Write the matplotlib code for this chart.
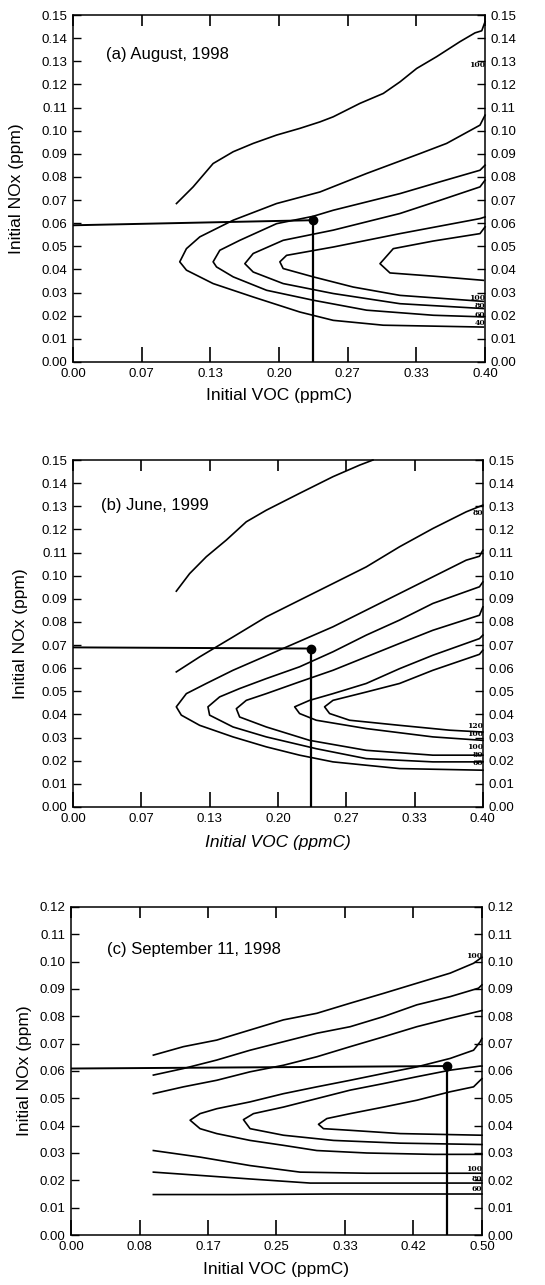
import matplotlib
matplotlib.use("Agg")
import matplotlib.pyplot as plt

plt.rcParams['font.family'] = ['Liberation Sans', 'DejaVu Sans']

# ---------------- (a) August, 1998 ----------------
aug_top_x = [0.1004, 0.1166, 0.1360, 0.1555, 0.1749, 0.1976, 0.2202, 0.2397, 0.2526, 0.2785,
             0.3012, 0.3174, 0.3336, 0.3530, 0.3757, 0.3903, 0.3968, 0.4000]
aug_top_y = [0.0685, 0.0757, 0.0858, 0.0909, 0.0945, 0.0981, 0.1010, 0.1038, 0.1060, 0.1118,
             0.1161, 0.1211, 0.1269, 0.1320, 0.1385, 0.1423, 0.1432, 0.1471]

aug_n1_x = [0.3984, 0.3012, 0.2526, 0.2202, 0.1749, 0.1360, 0.1101, 0.1036, 0.1101, 0.1231,
            0.1555, 0.1976, 0.2397, 0.2850, 0.3368, 0.3627, 0.3951, 0.4000]
aug_n1_y = [0.0151, 0.0159, 0.0180, 0.0216, 0.0281, 0.0339, 0.0397, 0.0433, 0.0490, 0.0541,
            0.0613, 0.0685, 0.0735, 0.0815, 0.0901, 0.0945, 0.1024, 0.1067]

aug_n2_x = [0.3984, 0.3498, 0.2850, 0.2332, 0.1879, 0.1555, 0.1393, 0.1360, 0.1425, 0.1619,
            0.1976, 0.2332, 0.2526, 0.3174, 0.3563, 0.3951, 0.4000]
aug_n2_y = [0.0195, 0.0202, 0.0224, 0.0267, 0.0310, 0.0368, 0.0411, 0.0433, 0.0483, 0.0526,
            0.0598, 0.0630, 0.0656, 0.0728, 0.0779, 0.0829, 0.0851]

aug_n3_x = [0.3984, 0.3174, 0.2526, 0.2040, 0.1749, 0.1668, 0.1749, 0.2040, 0.2526, 0.3174,
            0.3563, 0.3951, 0.4000]
aug_n3_y = [0.0231, 0.0252, 0.0296, 0.0339, 0.0389, 0.0425, 0.0469, 0.0526, 0.0570, 0.0642,
            0.0699, 0.0757, 0.0786]

aug_n4_x = [0.3984, 0.3174, 0.2720, 0.2332, 0.2040, 0.2008, 0.2073, 0.2526, 0.3174, 0.3951, 0.4000]
aug_n4_y = [0.0262, 0.0288, 0.0324, 0.0368, 0.0404, 0.0433, 0.0461, 0.0497, 0.0555, 0.0620, 0.0627]

aug_n5_x = [0.3984, 0.3498, 0.3077, 0.2980, 0.3109, 0.3498, 0.3951, 0.4000]
aug_n5_y = [0.0353, 0.0371, 0.0385, 0.0425, 0.0490, 0.0523, 0.0555, 0.0584]

aug_point = (0.2332, 0.0613)
aug_guide_y0 = 0.0591

# ---------------- (b) June, 1999 ----------------
jun_top_x = [0.1008, 0.1138, 0.1301, 0.1496, 0.1691, 0.1886, 0.2211, 0.2537, 0.2797, 0.2927]
jun_top_y = [0.0933, 0.1009, 0.1082, 0.1154, 0.1233, 0.1283, 0.1356, 0.1428, 0.1478, 0.1500]

jun_o2_x = [0.1008, 0.1236, 0.1561, 0.1886, 0.2211, 0.2537, 0.2862, 0.3187, 0.3512, 0.3837, 0.4000]
jun_o2_y = [0.0584, 0.0649, 0.0735, 0.0822, 0.0894, 0.0966, 0.1038, 0.1125, 0.1204, 0.1276, 0.1305]

jun_n1_x = [0.4000, 0.3187, 0.2537, 0.2211, 0.1886, 0.1561, 0.1236, 0.1057, 0.1008, 0.1106,
            0.1301, 0.1561, 0.2049, 0.2537, 0.2862, 0.3187, 0.3512, 0.3837, 0.3967, 0.4000]
jun_n1_y = [0.0159, 0.0166, 0.0195, 0.0224, 0.0260, 0.0303, 0.0353, 0.0397, 0.0433, 0.0490,
            0.0534, 0.0591, 0.0685, 0.0779, 0.0851, 0.0923, 0.0995, 0.1067, 0.1084, 0.1110]

jun_n2_x = [0.4000, 0.3512, 0.2862, 0.2374, 0.1886, 0.1561, 0.1333, 0.1317, 0.1431, 0.1626,
            0.1886, 0.2211, 0.2537, 0.2862, 0.3187, 0.3512, 0.3967, 0.4000]
jun_n2_y = [0.0195, 0.0195, 0.0209, 0.0252, 0.0303, 0.0346, 0.0397, 0.0433, 0.0476, 0.0512,
            0.0555, 0.0606, 0.0671, 0.0743, 0.0808, 0.0880, 0.0952, 0.0973]

jun_n3_x = [0.4000, 0.3512, 0.2862, 0.2309, 0.1886, 0.1626, 0.1594, 0.1691, 0.1886, 0.2211,
            0.2537, 0.2862, 0.3187, 0.3512, 0.3967, 0.4000]
jun_n3_y = [0.0224, 0.0224, 0.0245, 0.0288, 0.0346, 0.0389, 0.0425, 0.0461, 0.0490, 0.0541,
            0.0591, 0.0649, 0.0707, 0.0764, 0.0829, 0.0865]

jun_n4_x = [0.4000, 0.3512, 0.2862, 0.2374, 0.2211, 0.2163, 0.2309, 0.2537, 0.2862, 0.3187,
            0.3512, 0.3967, 0.4000]
jun_n4_y = [0.0288, 0.0303, 0.0339, 0.0375, 0.0404, 0.0433, 0.0461, 0.0490, 0.0534, 0.0598,
            0.0656, 0.0728, 0.0743]

jun_n5_x = [0.4000, 0.3675, 0.3187, 0.2699, 0.2504, 0.2455, 0.2537, 0.2862, 0.3187, 0.3512,
            0.3967, 0.4000]
jun_n5_y = [0.0324, 0.0332, 0.0353, 0.0375, 0.0404, 0.0433, 0.0461, 0.0497, 0.0534, 0.0591,
            0.0660, 0.0678]

jun_point = (0.2325, 0.0685)
jun_guide_y0 = 0.0690

# ---------------- (c) September 11, 1998 ----------------
sep_top_x = [0.1002, 0.1368, 0.1773, 0.2179, 0.2585, 0.2991, 0.3397, 0.3803, 0.4208, 0.4614, 0.4898, 0.5000]
sep_top_y = [0.0658, 0.0689, 0.0713, 0.0750, 0.0787, 0.0811, 0.0848, 0.0884, 0.0921, 0.0958, 0.0994, 0.1016]

sep_o2_x = [0.1002, 0.1368, 0.1773, 0.2179, 0.2585, 0.2991, 0.3397, 0.3803, 0.4208, 0.4614, 0.4959, 0.5000]
sep_o2_y = [0.0585, 0.0609, 0.0640, 0.0676, 0.0707, 0.0738, 0.0762, 0.0799, 0.0842, 0.0872, 0.0903, 0.0915]

sep_o3_x = [0.1002, 0.1368, 0.1773, 0.2179, 0.2585, 0.2991, 0.3397, 0.3803, 0.4208, 0.4614, 0.5000]
sep_o3_y = [0.0517, 0.0542, 0.0566, 0.0597, 0.0621, 0.0652, 0.0689, 0.0725, 0.0762, 0.0793, 0.0821]

sep_n1_x = [0.5000, 0.4411, 0.3600, 0.2991, 0.2585, 0.2179, 0.1773, 0.1570, 0.1449, 0.1570,
            0.1773, 0.2179, 0.2585, 0.2991, 0.3397, 0.3803, 0.4208, 0.4614, 0.4898, 0.4979, 0.5000]
sep_n1_y = [0.0295, 0.0295, 0.0300, 0.0309, 0.0328, 0.0346, 0.0371, 0.0389, 0.0420, 0.0444,
            0.0462, 0.0487, 0.0517, 0.0542, 0.0566, 0.0591, 0.0615, 0.0646, 0.0676, 0.0707, 0.0719]

sep_n2_x = [0.5000, 0.4005, 0.3194, 0.2585, 0.2179, 0.2098, 0.2220, 0.2585, 0.2991, 0.3397,
            0.3803, 0.4208, 0.4614, 0.4979, 0.5000]
sep_n2_y = [0.0331, 0.0336, 0.0346, 0.0365, 0.0389, 0.0422, 0.0444, 0.0468, 0.0499, 0.0530,
            0.0554, 0.0579, 0.0603, 0.0618, 0.0618]

sep_n3_x = [0.5000, 0.4005, 0.3397, 0.3072, 0.3011, 0.3113, 0.3397, 0.3803, 0.4208, 0.4614,
            0.4898, 0.4979, 0.5000]
sep_n3_y = [0.0365, 0.0371, 0.0383, 0.0389, 0.0405, 0.0426, 0.0444, 0.0468, 0.0493, 0.0524,
            0.0542, 0.0566, 0.0572]

sep_l1_x = [0.1002, 0.1570, 0.2179, 0.2788, 0.3600, 0.5000]
sep_l1_y = [0.0309, 0.0285, 0.0254, 0.0230, 0.0226, 0.0226]
sep_l2_x = [0.1002, 0.1570, 0.2179, 0.2910, 0.4005, 0.5000]
sep_l2_y = [0.0230, 0.0218, 0.0205, 0.0190, 0.0190, 0.0190]
sep_l3_x = [0.1002, 0.1976, 0.3194, 0.5000]
sep_l3_y = [0.0148, 0.0148, 0.0150, 0.0150]

sep_point = (0.4574, 0.0618)
sep_guide_y0 = 0.0609

# tick labels
ticks_04 = [0.0, 0.4 / 6, 0.8 / 6, 0.2, 1.6 / 6, 2.0 / 6, 0.4]
ticklabels_04 = ['0.00', '0.07', '0.13', '0.20', '0.27', '0.33', '0.40']
ticks_05 = [0.0, 0.5 / 6, 1.0 / 6, 0.25, 2.0 / 6, 2.5 / 6, 0.5]
ticklabels_05 = ['0.00', '0.08', '0.17', '0.25', '0.33', '0.42', '0.50']

# edge labels of the isopleths (crowded at the right border)
aug_edge = [('100', 0.1285), ('100', 0.0275), ('80', 0.0240), ('60', 0.0205), ('40', 0.0170)]
jun_edge = [('80', 0.1270), ('120', 0.0350), ('100', 0.0315),
            ('100', 0.0260), ('80', 0.0225), ('60', 0.0190)]
sep_edge = [('100', 0.1020), ('100', 0.0240), ('80', 0.0205), ('60', 0.0170)]


def setup_axes(ax, xmax, ymax, xticks, xticklabels, xlabel, title, title_pos,
               ylabel_x, xlabel_y, xlabel_style='normal'):
    ax.set_xlim(0, xmax)
    ax.set_ylim(0, ymax)
    ax.set_xticks(xticks)
    ax.set_xticklabels(xticklabels)
    n = int(round(ymax / 0.01))
    yt = [i * 0.01 for i in range(n + 1)]
    ax.set_yticks(yt)
    ax.set_yticklabels(['%.2f' % v for v in yt])
    ax.tick_params(axis='x', direction='in', length=11, width=1.2, labelsize=9.5,
                   pad=4, top=False)
    ax.tick_params(axis='y', direction='in', length=6, width=1.0, labelsize=9.5,
                   pad=4, right=True, labelright=True)
    top = ax.secondary_xaxis('top')
    top.set_xticks(xticks)
    top.set_xticklabels([])
    top.tick_params(direction='in', length=8, width=1.2)
    top.spines['top'].set_visible(False)
    for s in ax.spines.values():
        s.set_linewidth(1.1)
    ax.set_ylabel('Initial NOx (ppm)', fontsize=12.5)
    ax.yaxis.set_label_coords(ylabel_x, 0.5)
    ax.set_xlabel(xlabel, fontsize=12.5, style=xlabel_style)
    ax.xaxis.set_label_coords(0.5, xlabel_y)
    ax.text(title_pos[0], title_pos[1], title, transform=ax.transAxes,
            fontsize=12, va='center', ha='left')


def draw_panel(ax, curves, point, guide_y0, edge, xmax):
    for cx, cy in curves:
        ax.plot(cx, cy, color='black', lw=1.2, clip_on=False)
    ax.plot([0, point[0]], [guide_y0, point[1]], color='black', lw=1.4)
    ax.plot([point[0], point[0]], [point[1], 0], color='black', lw=1.6)
    ax.plot(point[0], point[1], 'o', color='black', ms=6)
    for lab, yv in edge:
        ax.text(xmax, yv, lab, fontsize=5.5, fontweight='bold', family='DejaVu Serif',
                ha='right', va='center', color='black')


fig = plt.figure(figsize=(5.45, 12.85), dpi=100)
ax1 = fig.add_axes([0.134, 0.7183, 0.756, 0.2700])
ax2 = fig.add_axes([0.134, 0.3720, 0.752, 0.2700])
ax3 = fig.add_axes([0.1303, 0.0389, 0.754, 0.2553])

setup_axes(ax1, 0.4, 0.15, ticks_04, ticklabels_04, 'Initial VOC (ppmC)',
           '(a) August, 1998', (0.081, 0.885), -0.119, -0.075)
draw_panel(ax1, [(aug_top_x, aug_top_y), (aug_n1_x, aug_n1_y), (aug_n2_x, aug_n2_y),
                 (aug_n3_x, aug_n3_y), (aug_n4_x, aug_n4_y), (aug_n5_x, aug_n5_y)],
           aug_point, aug_guide_y0, aug_edge, 0.4)

setup_axes(ax2, 0.4, 0.15, ticks_04, ticklabels_04, 'Initial VOC (ppmC)',
           '(b) June, 1999', (0.069, 0.870), -0.110, -0.080, xlabel_style='italic')
draw_panel(ax2, [(jun_top_x, jun_top_y), (jun_o2_x, jun_o2_y), (jun_n1_x, jun_n1_y),
                 (jun_n2_x, jun_n2_y), (jun_n3_x, jun_n3_y), (jun_n4_x, jun_n4_y),
                 (jun_n5_x, jun_n5_y)],
           jun_point, jun_guide_y0, jun_edge, 0.4)

setup_axes(ax3, 0.5, 0.12, ticks_05, ticklabels_05, 'Initial VOC (ppmC)',
           '(c) September 11, 1998', (0.087, 0.870), -0.095, -0.082)
draw_panel(ax3, [(sep_top_x, sep_top_y), (sep_o2_x, sep_o2_y), (sep_o3_x, sep_o3_y),
                 (sep_n1_x, sep_n1_y), (sep_n2_x, sep_n2_y), (sep_n3_x, sep_n3_y),
                 (sep_l1_x, sep_l1_y), (sep_l2_x, sep_l2_y), (sep_l3_x, sep_l3_y)],
           sep_point, sep_guide_y0, sep_edge, 0.5)

fig.savefig('out.png', dpi=100)
